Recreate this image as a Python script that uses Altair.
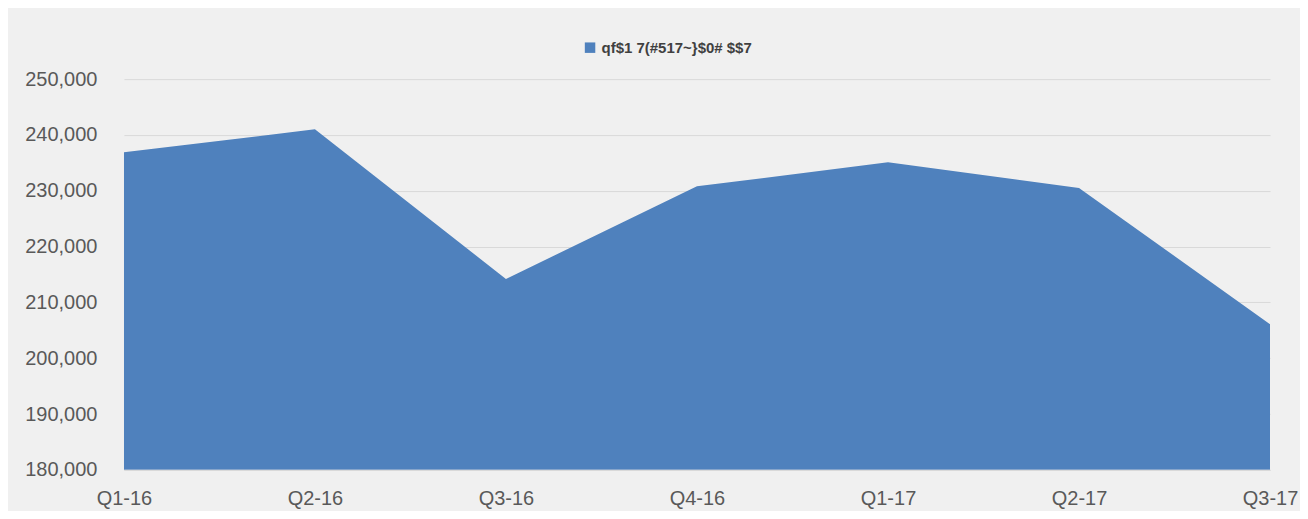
import altair as alt
import pandas as pd

quarters = ["Q1-16", "Q2-16", "Q3-16", "Q4-16", "Q1-17", "Q2-17", "Q3-17"]
values = [236900, 241000, 214200, 230800, 235100, 230500, 206100]
series_name = "qf$1 7(#517~}$0# $$7"

df = pd.DataFrame({"quarter": quarters, "value": values, "series": [series_name] * len(quarters)})

area = alt.Chart(df).mark_area(color="#4f81bd", opacity=1, clip=True).encode(
    x=alt.X("quarter:N", sort=quarters, scale=alt.Scale(type="point", padding=0),
            axis=alt.Axis(title=None, labelAngle=0, labelFontSize=20, labelColor="#595959",
                          labelFont="Liberation Sans", ticks=False, domainColor="#d9d9d9",
                          labelPadding=19, grid=False, zindex=1)),
    y=alt.Y("value:Q", scale=alt.Scale(domain=[180000, 250000], nice=False, zero=False),
            axis=alt.Axis(title=None, values=list(range(180000, 250001, 10000)), format=",.0f",
                          labelFontSize=20, labelColor="#595959", labelFont="Liberation Sans",
                          ticks=False, domain=False, gridColor="#d9d9d9", labelPadding=27)),
    color=alt.Color("series:N", scale=alt.Scale(range=["#4f81bd"]),
                    legend=alt.Legend(title=None, orient="none", legendX=459, legendY=-39,
                                      symbolType="square", symbolSize=110, labelFontSize=15,
                                      labelFont="Liberation Sans", labelColor="#404040",
                                      labelFontWeight="bold")),
)

chart = area.properties(
    width=1147, height=391,
    background="#f0f0f0",
    padding={"left": 116, "top": 71, "right": 30, "bottom": 41},
    autosize=alt.AutoSizeParams(type="none"),
).configure_view(stroke=None)

chart.save("out.html", embed_options={"renderer": "svg", "actions": False})
